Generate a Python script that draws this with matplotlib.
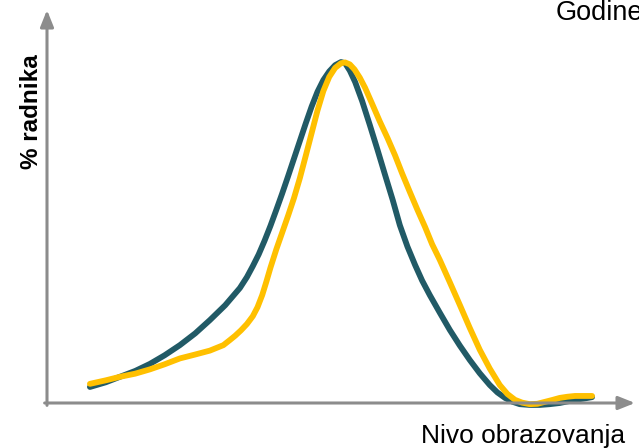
import matplotlib.pyplot as plt

plt.rcParams['font.family'] = ['Liberation Sans', 'DejaVu Sans']

# Education level (0-100 along axis) and share of workers (%)
teal_x = [7.3, 10.0, 12.4, 15.0, 17.5, 20.0, 22.6, 25.2, 27.7, 30.3, 32.8, 34.0,
          35.0, 36.0, 37.0, 38.0, 39.0, 40.0, 41.0, 42.0, 43.0, 44.0, 45.0,
          46.0, 47.0, 48.0, 49.0, 50.0, 50.7, 51.5, 52.4, 53.6, 54.9, 56.2,
          57.5, 58.8, 60.0, 61.3, 62.6, 63.8, 65.1, 66.8, 68.5, 70.2, 71.9,
          73.6, 75.3, 76.6, 77.9, 79.2, 80.4, 82.1, 83.8, 85.5, 87.2, 88.5,
          89.8, 91.2, 92.7]
teal_y = [4.1, 5.3, 6.7, 8.2, 10.0, 12.2, 14.8, 17.8, 21.2, 25.0, 29.4, 32.2,
          35.0, 38.0, 41.5, 45.3, 49.4, 53.6, 58.0, 62.5, 67.0, 71.5, 75.8,
          79.6, 82.6, 84.8, 86.4, 87.2, 86.9, 85.0, 82.1, 77.2, 71.1, 64.8,
          58.3, 51.9, 45.5, 40.0, 35.3, 31.3, 27.6, 23.1, 18.7, 14.7, 11.0,
          7.6, 4.6, 2.7, 1.3, 0.3, -0.3, -0.5, -0.5, -0.3, 0.0, 0.4,
          0.8, 1.1, 1.5]

yellow_x = [7.3, 10.0, 12.4, 15.0, 17.5, 20.0, 22.6, 25.2, 27.7, 30.0, 31.1,
            32.0, 33.0, 34.0, 35.0, 35.8, 36.6, 37.3, 38.0, 39.0, 40.0, 41.0,
            42.0, 43.0, 44.0, 45.0, 46.0, 47.0, 48.0, 49.0, 50.0, 50.7, 51.5,
            52.3, 53.2, 54.1, 55.3, 56.6, 57.9, 59.2, 60.4, 61.7, 63.0, 64.3,
            65.5, 66.8, 68.5, 70.2, 71.9, 73.6, 75.3, 77.0, 78.3, 79.6, 80.8,
            82.1, 83.4, 84.7, 86.0, 87.2, 88.5, 89.8, 91.2, 92.7]
yellow_y = [4.9, 5.8, 6.7, 7.5, 8.6, 9.9, 11.4, 12.4, 13.4, 14.8, 16.1,
            17.2, 18.6, 20.2, 22.2, 24.5, 27.6, 31.0, 34.6, 39.3, 43.6, 47.9,
            52.4, 57.5, 63.2, 69.0, 74.8, 79.8, 83.4, 85.7, 86.9, 87.1, 86.6,
            85.3, 83.2, 80.6, 76.5, 72.0, 67.8, 63.3, 58.7, 54.0, 49.4, 45.0,
            40.6, 36.6, 30.9, 25.1, 19.2, 13.6, 8.8, 4.6, 2.3, 0.8, 0.1,
            -0.3, -0.2, 0.3, 0.8, 1.3, 1.6, 1.8, 1.8, 1.8]

fig = plt.figure(figsize=(6.39, 4.48), dpi=100)
ax = fig.add_axes([47 / 639, 45 / 448, 588 / 639, 393 / 448])
ax.set_xlim(0, 100)
ax.set_ylim(0, 100 * 393 / 391)
ax.axis('off')

# axes with arrow heads
grey = '#8c8c8c'
arrow = dict(arrowstyle='-|>,head_length=1.0,head_width=0.4', color=grey,
             lw=2.2, shrinkA=0, shrinkB=0)
ax.annotate('', xy=(1, 0), xytext=(-0.004, 0), xycoords='axes fraction', arrowprops=arrow)
ax.annotate('', xy=(0, 1), xytext=(0, -0.006), xycoords='axes fraction', arrowprops=arrow)

ax.plot(teal_x, teal_y, color='#215a66', lw=4.2, solid_capstyle='round',
        solid_joinstyle='round', clip_on=False)
ax.plot(yellow_x, yellow_y, color='#ffc000', lw=4.2, solid_capstyle='round',
        solid_joinstyle='round', clip_on=False)

fig.text(31 / 639, 1 - 112 / 448, '% radnika', rotation=90, fontsize=17.5,
         fontweight='bold', ha='center', va='center')
fig.text(625 / 639, 1 - 436 / 448, 'Nivo obrazovanja', fontsize=19,
         ha='right', va='center')
fig.text(556 / 639, 1 - 13 / 448, 'Godine', fontsize=19.5, ha='left', va='center')

fig.savefig('out.png', dpi=100)
